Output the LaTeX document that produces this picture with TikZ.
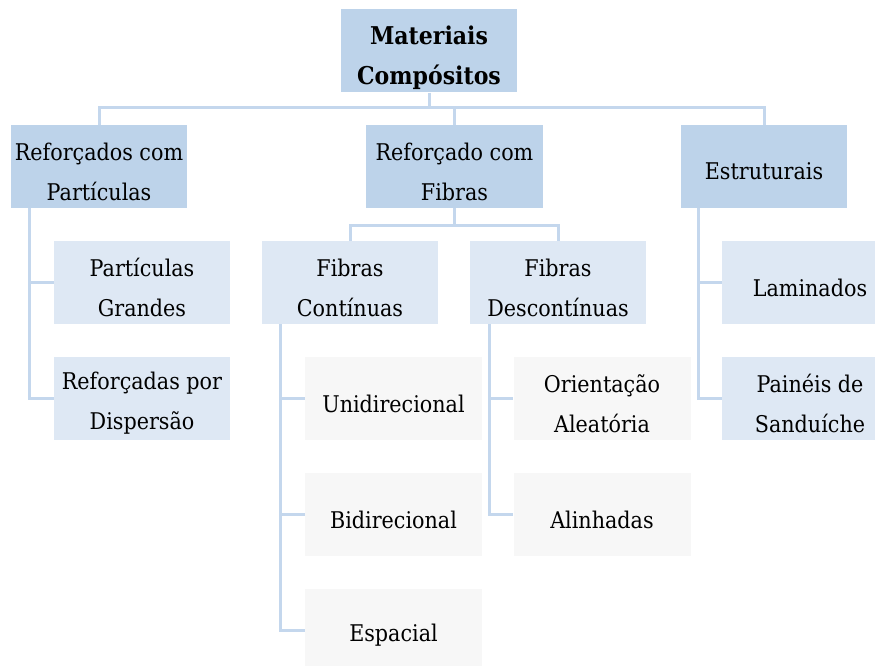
\documentclass[tikz,border=0pt]{standalone}
\usepackage{fontspec}
\setmainfont{DejaVu Serif}[FakeStretch=0.9]
\definecolor{lvA}{HTML}{BDD3EA}
\definecolor{lvB}{HTML}{DEE8F4}
\definecolor{lvC}{HTML}{F7F7F7}
\definecolor{lineC}{HTML}{C4D7ED}
\tikzset{
  txt/.style={inner sep=0pt, align=center, font=\fontsize{23}{40}\selectfont, text=black, yshift=-5pt},
  box/.style={inner sep=0pt, minimum height=83pt},
  boxA/.style={box, fill=lvA, minimum width=176pt},
  boxB/.style={box, fill=lvB, minimum width=176pt},
  boxC/.style={box, fill=lvC, minimum width=177pt},
  tl/.style={label={[txt]center:{#1}}},
  conn/.style={draw=lineC, line width=3pt}
}
\begin{document}
\begin{tikzpicture}[x=1pt,y=-1pt]
\useasboundingbox (0,0) rectangle (875,666);
\begin{scope}
\clip (0,0) rectangle (875,666);
\coordinate (r1) at (429,108);
\coordinate (f1) at (454.5,225);
% nodes
\node[boxA, label={[txt, yshift=-1.5pt, font=\fontsize{24.5}{40}\selectfont\bfseries]center:{Materiais\\Compósitos}}] (root) at (429,51) {};
\node[boxA, tl={Reforçados com\\Partículas}] (part) at (99,166.5) {};
\node[boxA, minimum width=177pt, tl={Reforçado com\\Fibras}] (fib) at (454.5,166.5) {};
\node[boxA, minimum width=166pt, tl={Estruturais}] (est) at (764,166.5) {};
\node[boxB, tl={Partículas\\Grandes}] (pg) at (142,282.5) {};
\node[boxB, tl={Reforçadas por\\Dispersão}] (rd) at (142,398.5) {};
\node[boxB, tl={Fibras\\Contínuas}] (fc) at (350,282.5) {};
\node[boxB, tl={Fibras\\Descontínuas}] (fd) at (558,282.5) {};
\node[boxB, tl={Laminados}] (lam) at (810,282.5) {};
\node[boxB, tl={Painéis de\\Sanduíche}] (ps) at (810,398.5) {};
\node[boxC, tl={Unidirecional}] (uni) at (393.5,398.5) {};
\node[boxC, tl={Bidirecional}] (bi) at (393.5,514.5) {};
\node[boxC, tl={Espacial}] (esp) at (393.5,630.5) {};
\node[boxC, tl={Orientação\\Aleatória}] (oa) at (602,398.5) {};
\node[boxC, tl={Alinhadas}] (al) at (602,514.5) {};
% connectors
\draw[conn] (root.south) -- (r1);
\draw[conn] (part.north) |- (r1);
\draw[conn] (fib.north) |- (r1);
\draw[conn] (est.north) |- (r1);
\draw[conn] (fib.south) -- (f1);
\draw[conn] (fc.north) |- (f1);
\draw[conn] (fd.north) |- (f1);
\draw[conn] ([xshift=18.5pt]part.south west) |- (pg.west);
\draw[conn] ([xshift=18.5pt]part.south west) |- (rd.west);
\draw[conn] ([xshift=19pt]fc.south west) |- (uni.west);
\draw[conn] ([xshift=19pt]fc.south west) |- (bi.west);
\draw[conn] ([xshift=19pt]fc.south west) |- (esp.west);
\draw[conn] ([xshift=19.5pt]fd.south west) |- (oa.west);
\draw[conn] ([xshift=19.5pt]fd.south west) |- (al.west);
\draw[conn] ([xshift=18pt]est.south west) |- (lam.west);
\draw[conn] ([xshift=18pt]est.south west) |- (ps.west);
\end{scope}
\end{tikzpicture}
\end{document}
